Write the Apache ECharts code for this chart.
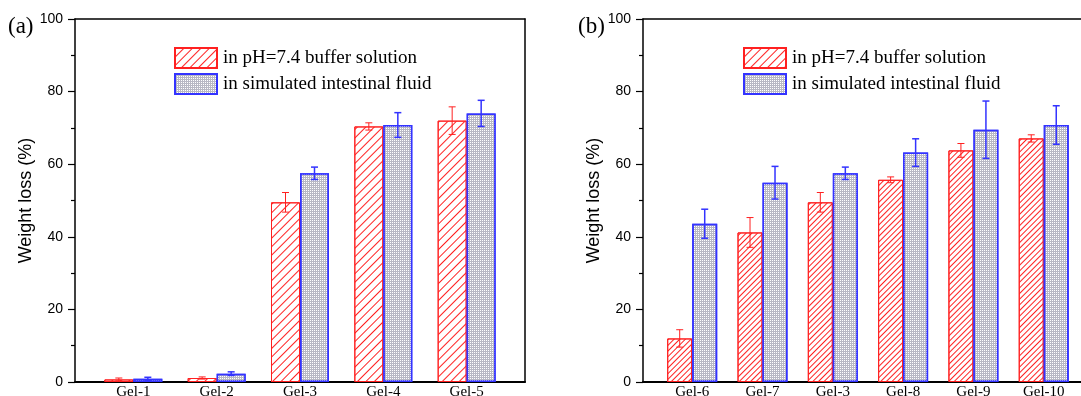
<!DOCTYPE html>
<html>
<head>
<meta charset="utf-8">
<script src="https://cdn.jsdelivr.net/npm/echarts@6/dist/echarts.min.js"></script>
<style>
  html, body { margin: 0; padding: 0; background: #fff; }
  #chart { width: 1081px; height: 396px; }
</style>
</head>
<body>
<div id="chart"></div>
<script>
// panel (a)
const catsA = ["Gel-1", "Gel-2", "Gel-3", "Gel-4", "Gel-5"];
const bufferA = [0.7, 1.1, 49.5, 70.4, 72.0];
const bufferErrA = [0.4, 0.3, 2.7, 1.0, 3.8];
const fluidA = [0.9, 2.3, 57.5, 70.8, 74.0];
const fluidErrA = [0.4, 0.5, 1.7, 3.4, 3.6];

// panel (b)
const catsB = ["Gel-6", "Gel-7", "Gel-3", "Gel-8", "Gel-9", "Gel-10"];
const bufferB = [12.0, 41.2, 49.5, 55.7, 63.8, 67.1];
const bufferErrB = [2.4, 4.1, 2.7, 0.8, 1.9, 1.0];
const fluidB = [43.6, 54.9, 57.5, 63.2, 69.5, 70.8];
const fluidErrB = [4.0, 4.5, 1.7, 3.8, 7.9, 5.3];

const seriesNames = ["in pH=7.4 buffer solution", "in simulated intestinal fluid"];

const RED = "#ff2020";
const BLUE = "#3333ff";
const SERIF = "Liberation Serif";
const SANS = "Liberation Sans";

const chart = echarts.init(document.getElementById("chart"));

const toPoints = (vals) => vals.map((v, i) => [i + 1, v]);
const toErr = (vals, errs) => vals.map((v, i) => [i + 1, v, errs[i]]);

function errorBar(offset, color, width) {
  return function (params, api) {
    const x = api.value(0);
    const v = api.value(1);
    const e = api.value(2);
    const hi = api.coord([x, v + e]);
    const lo = api.coord([x, v - e]);
    const cx = hi[0] + offset;
    const cap = 3.5;
    const style = { stroke: color, lineWidth: width, fill: null };
    return {
      type: "group",
      children: [
        { type: "line", shape: { x1: cx, y1: hi[1], x2: cx, y2: lo[1] }, style },
        { type: "line", shape: { x1: cx - cap, y1: hi[1], x2: cx + cap, y2: hi[1] }, style },
        { type: "line", shape: { x1: cx - cap, y1: lo[1], x2: cx + cap, y2: lo[1] }, style },
      ],
    };
  };
}

function hatch(gap) {
  return {
    symbol: "rect",
    symbolSize: 1,
    color: RED,
    dashArrayX: [1, 0],
    dashArrayY: [1, gap],
    rotation: -Math.PI / 4,
  };
}

const dots = {
  symbol: "rect",
  symbolSize: 1,
  color: "#ffffff",
  dashArrayX: [1, 1],
  dashArrayY: [1, 1],
};

// the (b) frame runs off the right edge, so its visible range stops short
function xAxesFor(gridIndex, cats, max) {
  return [
    {
      type: "value",
      gridIndex,
      min: 0.3,
      max,
      axisLine: { show: true, onZero: false, lineStyle: { color: "#000", width: 2 } },
      axisTick: { show: false },
      splitLine: { show: false },
      axisLabel: {
        customValues: cats.map((c, i) => i + 1),
        formatter: (v) => cats[Math.round(v) - 1] || "",
        fontFamily: SERIF,
        fontSize: 15,
        color: "#000",
        margin: 3,
      },
    },
    {
      type: "value",
      gridIndex,
      position: "top",
      min: 0.3,
      max,
      axisLine: { show: true, onZero: false, lineStyle: { color: "#000", width: 1.5 } },
      axisTick: { show: false },
      axisLabel: { show: false },
      splitLine: { show: false },
    },
  ];
}

function yAxesFor(gridIndex, showRight) {
  return [
    {
      type: "value",
      gridIndex,
      min: 0,
      max: 100,
      interval: 20,
      name: "Weight loss (%)",
      nameLocation: "middle",
      nameGap: 40,
      nameTextStyle: { fontFamily: SANS, fontSize: 18, color: "#000" },
      axisLine: { show: true, onZero: false, lineStyle: { color: "#000", width: 1.5 } },
      axisTick: { show: true, length: 7, lineStyle: { color: "#000", width: 1.2 } },
      minorTick: { show: true, splitNumber: 2, length: 4, lineStyle: { color: "#000", width: 1.2 } },
      splitLine: { show: false },
      axisLabel: { fontFamily: SANS, fontSize: 14, color: "#000", margin: 12 },
    },
    {
      type: "value",
      gridIndex,
      position: "right",
      min: 0,
      max: 100,
      show: showRight,
      axisLine: { show: true, onZero: false, lineStyle: { color: "#000", width: 1.5 } },
      axisTick: { show: false },
      axisLabel: { show: false },
      splitLine: { show: false },
    },
  ];
}

function panelSeries(idx, buffer, bufferErr, fluid, fluidErr, barWidth, gap) {
  const xi = idx * 2;
  const yi = idx * 2;
  return [
    {
      name: seriesNames[0],
      type: "bar",
      xAxisIndex: xi,
      yAxisIndex: yi,
      barWidth,
      barGap: "0%",
      data: toPoints(buffer),
      itemStyle: { color: "#ffffff", borderColor: RED, borderWidth: 1, decal: hatch(gap) },
    },
    {
      name: seriesNames[1],
      type: "bar",
      xAxisIndex: xi,
      yAxisIndex: yi,
      barWidth,
      barGap: "0%",
      data: toPoints(fluid),
      itemStyle: { color: "#b8b8c4", borderColor: BLUE, borderWidth: 1.5, decal: dots },
    },
    {
      type: "custom",
      xAxisIndex: xi,
      yAxisIndex: yi,
      renderItem: errorBar(-barWidth / 2, RED, 1),
      data: toErr(buffer, bufferErr),
      z: 5,
    },
    {
      type: "custom",
      xAxisIndex: xi,
      yAxisIndex: yi,
      renderItem: errorBar(barWidth / 2, BLUE, 1.5),
      data: toErr(fluid, fluidErr),
      z: 5,
    },
  ];
}

const legendBase = {
  orient: "vertical",
  top: 47,
  padding: 0,
  icon: "rect",
  itemWidth: 42,
  itemHeight: 20,
  itemGap: 4,
  selectedMode: false,
  textStyle: { fontFamily: SERIF, fontSize: 19, color: "#000", padding: [0, 0, 0, 1] },
  data: seriesNames,
};

const labelStyle = { fontFamily: SERIF, fontSize: 23, fontWeight: "normal", color: "#000" };

const option = {
  backgroundColor: "#ffffff",
  animation: false,
  title: [
    { text: "(a)", left: 8, top: 15, padding: 0, textStyle: labelStyle },
    { text: "(b)", left: 578, top: 15, padding: 0, textStyle: labelStyle },
  ],
  legend: [
    Object.assign({}, legendBase, { left: 174 }),
    Object.assign({}, legendBase, { left: 743 }),
  ],
  grid: [
    { left: 75, top: 19, width: 450, height: 363, outerBoundsMode: "none" },
    { left: 643, top: 19, right: 0, height: 363, outerBoundsMode: "none" },
  ],
  xAxis: [...xAxesFor(0, catsA, 5.7), ...xAxesFor(1, catsB, 6.53)],
  yAxis: [...yAxesFor(0, true), ...yAxesFor(1, false)],
  series: [
    ...panelSeries(0, bufferA, bufferErrA, fluidA, fluidErrA, 29, 5),
    ...panelSeries(1, bufferB, bufferErrB, fluidB, fluidErrB, 25, 3),
  ],
};

chart.setOption(option);
</script>
</body>
</html>
